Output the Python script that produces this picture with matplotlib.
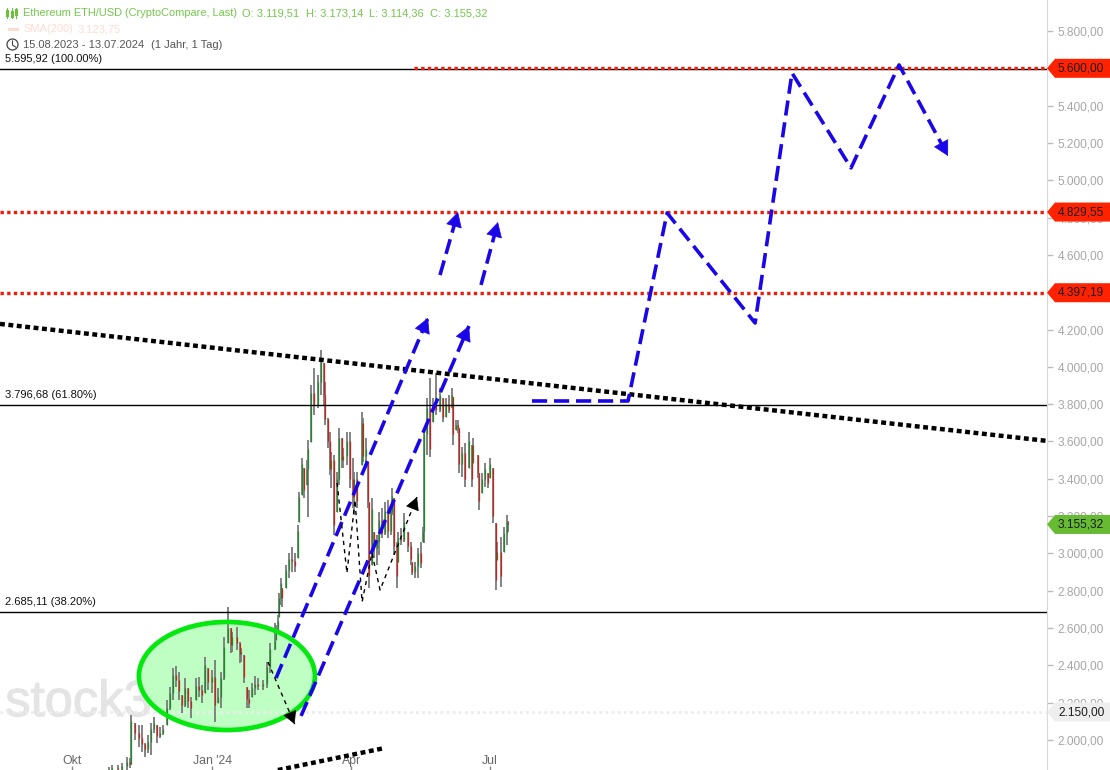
import numpy as np
import matplotlib
matplotlib.use("Agg")
import matplotlib.pyplot as plt
import matplotlib.patheffects as pe
from matplotlib.patches import Ellipse, Polygon, Circle
from matplotlib.lines import Line2D
from matplotlib.transforms import Affine2D, blended_transform_factory

plt.rcParams["font.family"] = ["Liberation Sans", "DejaVu Sans"]

# days counted from 1 Oct 2023
days = [24,26,30,33,36,38,39,41,44,46,48,50,52,54,56,58,60,62,64,66,68,70,72,74,76,78,81,83,85,87,89,92,94,96,98,100,102,104,105,108,110,111,113,115,116,118,120,122,125,128,130,133,134,135,136,137,138,140,142,144,146,148,149,151,152,154,155,157,159,161,163,165,166,168,169,170,172,174,175,177,178,180,182,184,185,187,190,191,193,194,195,197,198,200,201,203,205,207,209,210,211,213,214,216,218,220,222,223,225,227,229,230,231,233,235,237,239,241,243,245,247,249,250,252,253,254,256,258,260,262,263,266,267,269,271,273,274,276,278,279,281,283,285,286]
high = [1855,1866,1866,1877,1909,1904,2134,2091,2080,2080,1984,2027,2091,2123,2080,2070,2080,2214,2284,2386,2397,2364,2241,2332,2279,2230,2332,2338,2295,2445,2386,2375,2429,2279,2364,2552,2713,2600,2579,2606,2525,2493,2456,2284,2268,2306,2343,2332,2322,2418,2520,2627,2616,2670,2788,2868,2815,2938,3002,3034,3002,3152,3329,3512,3458,3501,3608,3903,3994,3956,4090,4021,3919,3726,3651,3544,3528,3436,3672,3619,3565,3651,3651,3512,3436,3436,3758,3726,3619,3490,3276,3297,3115,3099,3222,3244,3276,3286,3260,3351,3297,3061,3115,3136,3217,3115,3061,2954,2954,3029,3061,3142,3662,3833,3940,3833,3967,3887,3833,3833,3849,3887,3838,3715,3715,3672,3570,3592,3651,3581,3619,3528,3431,3431,3485,3431,3512,3458,3163,3061,3088,3142,3206,3173]
low = [1810,1820,1825,1830,1830,1850,1866,2000,1962,1936,1909,1930,1920,2038,1984,2011,2027,2080,2161,2214,2284,2214,2145,2177,2172,2118,2214,2230,2198,2252,2268,2252,2096,2198,2172,2322,2520,2466,2472,2482,2413,2418,2306,2172,2172,2230,2241,2268,2268,2279,2359,2482,2536,2579,2659,2724,2713,2815,2868,2900,2900,2975,3168,3313,3297,3367,3195,3597,3742,3780,3849,3796,3688,3565,3420,3351,3099,3222,3367,3458,3458,3474,3351,3244,3206,3244,3474,3490,3490,3244,2815,2938,2975,2938,2992,3083,3099,3083,3099,3206,2992,2815,2954,3045,3061,3008,2938,2884,2868,2868,2922,3061,3056,3528,3517,3704,3742,3758,3704,3731,3753,3780,3581,3662,3646,3431,3410,3356,3458,3356,3485,3404,3233,3324,3356,3351,3404,3163,2804,2965,2820,3008,3045,3114]
close = [1840,1850,1845,1860,1880,1870,2100,2040,2010,1980,1950,1990,2060,2090,2020,2040,2060,2170,2250,2350,2320,2260,2190,2280,2210,2170,2290,2270,2240,2400,2310,2340,2190,2230,2330,2500,2600,2510,2550,2520,2460,2470,2340,2220,2200,2280,2300,2290,2300,2390,2490,2530,2580,2640,2760,2840,2760,2910,2970,2960,2930,3120,3300,3480,3340,3450,3560,3860,3800,3920,4030,3850,3720,3600,3450,3500,3150,3400,3620,3500,3520,3600,3400,3300,3400,3280,3700,3520,3560,3280,2880,3240,3030,3060,3180,3110,3230,3120,3220,3310,3040,2880,3080,3070,3170,3040,2970,2900,2930,3000,2950,3120,3640,3780,3560,3800,3770,3850,3730,3800,3770,3850,3640,3690,3670,3480,3540,3400,3600,3400,3580,3430,3280,3400,3450,3380,3480,3200,2860,3010,2880,3110,3170,3155.32]

price_ticks = np.arange(2000, 5801, 200)
hidden_ticks = [4400, 5600]
month_days = [0, 92, 183, 274]
month_labels = ["Okt", "Jan '24", "Apr", "Jul"]

fib_levels = [5595.92, 3796.68, 2685.11]
fib_labels = ["5.595,92 (100.00%)", "3.796,68 (61.80%)", "2.685,11 (38.20%)"]
target_levels = [4829.55, 4397.19]
top_target = 5600.0
top_target_start = 224
last_price = 3155.32
support = 2150.0

trend_days = [-47.2, 639.3]
trend_prices = [4230, 3603]
low_trend_days = [135, 205]
low_trend_prices = [1839, 1957]

blue_arrows = [
    ([133.8, 233.4], [2332, 4262]),
    ([150.2, 260.3], [2129, 4219]),
    ([241.3, 253.1], [4492, 4830]),
    ([268.2, 279.3], [4439, 4776]),
    ([301.6, 364.6, 390.2, 447.9, 472.1, 510.8, 542.3, 574.4],
     [3817, 3817, 4825, 4235, 5575, 5066, 5618, 5130]),
]
thin_arrows = [
    ([128.5, 146], [2418, 2085]),
    ([173.8, 180.3, 185.6, 190.2, 196.7, 202, 226.2],
     [3378, 2895, 3286, 2740, 3002, 2804, 3302]),
]

GREEN_TXT = "#72c84a"
BLUE = "#1a06e8"
RED = "#f01a08"


def price_text(v):
    return f"{v:,.2f}".replace(",", "X").replace(".", ",").replace("X", ".")


fig = plt.figure(figsize=(11.1, 7.7), dpi=100)
ax = fig.add_axes([0, 0, 1047 / 1110, 1])
ax.set_xlim(-47.2, 639.3)
ax.set_ylim(1839.2, 5966.1)

for s in ["top", "left", "bottom"]:
    ax.spines[s].set_visible(False)
ax.spines["right"].set_color("#d8d8d8")

ax.yaxis.tick_right()
ax.set_yticks(price_ticks)
# 4.400 and 5.600 sit fully behind their price tags
ax.set_yticklabels(["" if v in hidden_ticks else price_text(v) for v in price_ticks],
                   fontsize=8.6, color="#a6a6a6")
ax.tick_params(axis="y", length=4, width=1, color="#bcbcbc", pad=3.5)
ax.set_xticks(month_days)
ax.set_xticklabels(month_labels, fontsize=8.8, color="#666666")
ax.tick_params(axis="x", direction="in", length=3, width=1, color="#888888", pad=-11)

# watermark
ax.text(0.005, 0.0701, "stock3", transform=ax.transAxes, fontsize=36.5, color="#e4e4e4",
        ha="left", va="baseline", zorder=0,
        path_effects=[pe.withStroke(linewidth=0.8, foreground="#e4e4e4")])

# green zone, fill under the candles and edge over them
ax.add_patch(Ellipse((101.6, 2343), 115.4, 579, facecolor="#bfffc4", edgecolor="none", zorder=1))
ax.add_patch(Ellipse((101.6, 2343), 115.4, 579, facecolor="none", edgecolor="#05e80f", lw=3.4, zorder=5))

# candles
days_a = np.array(days)
high_a = np.array(high, dtype=float)
low_a = np.array(low, dtype=float)
close_a = np.array(close, dtype=float)
open_a = np.r_[low_a[0], close_a[:-1]]
open_a = np.clip(open_a, low_a, high_a)
ax.vlines(days_a, low_a, high_a, color="#7a7a7a", lw=1.3, zorder=2)
up = close_a >= open_a
ax.vlines(days_a[up], open_a[up], close_a[up], color="#1f8a2a", lw=0.9, zorder=3)
ax.vlines(days_a[~up], open_a[~up], close_a[~up], color="#cc2018", lw=0.9, zorder=3)

# horizontal levels
for lv in fib_levels:
    ax.axhline(lv, color="black", lw=1.0, zorder=3)
for lv in target_levels:
    ax.axhline(lv, color=RED, lw=2.4, ls=(0, (1, 1)), zorder=4)
ax.plot([top_target_start, 639.3], [top_target, top_target], color=RED, lw=2.4, ls=(0, (1, 1)), zorder=4)
ax.axhline(support, color="#ececec", lw=2, ls=(0, (1, 1.2)), zorder=1.5)

# trend lines
ax.plot(trend_days, trend_prices, color="black", lw=3.2, ls=(0, (1.1, 0.8)), zorder=5)
ax.plot(low_trend_days, low_trend_prices, color="black", lw=3.2, ls=(0, (1.1, 0.8)), zorder=5)


def arrow_line(xs, ys, color, lw, ls, scale, zorder):
    ax.plot(xs, ys, color=color, lw=lw, ls=ls, zorder=zorder, dash_capstyle="butt")
    x0 = xs[-1] - (xs[-1] - xs[-2]) * 0.02
    y0 = ys[-1] - (ys[-1] - ys[-2]) * 0.02
    ax.annotate("", xy=(xs[-1], ys[-1]), xytext=(x0, y0), zorder=zorder,
                arrowprops=dict(arrowstyle="-|>,head_length=0.55,head_width=0.3", color=color,
                                mutation_scale=scale, shrinkA=0, shrinkB=0, lw=0.5))


for xs, ys in blue_arrows:
    arrow_line(xs, ys, BLUE, 2.6, (0, (4.2, 1.9)), 18, 6)
for xs, ys in thin_arrows:
    arrow_line(xs, ys, "black", 1.0, (0, (3, 3)), 15, 6)

# price tags on the axis
tag_tf = blended_transform_factory(ax.transAxes, ax.transData)
right = 1110 / 1047
notch = 1055 / 1047
half = 51
tags = [(top_target, "5.600,00", "#ff2200"), (target_levels[0], "4.829,55", "#ff2200"),
        (target_levels[1], "4.397,19", "#ff2200"), (last_price, "3.155,32", "#66bb33"),
        (support, "2.150,00", "#eeeeee")]
for val, txt, col in tags:
    ax.add_patch(Polygon([(1.0, val), (notch, val + half), (right, val + half), (right, val - half), (notch, val - half)],
                         closed=True, transform=tag_tf, facecolor=col, edgecolor="none", clip_on=False, zorder=7))
    ax.text(1058 / 1047, val, txt, transform=tag_tf, fontsize=8.6, color="#1c1c1c", ha="left", va="center",
            clip_on=False, zorder=8)

# header, placed in image pixels
pix = Affine2D().scale(1, -1).translate(0, 770)


def label(x, y, s, color, size=8.0):
    fig.text(x, y, s, transform=pix, color=color, fontsize=size, ha="left", va="center", zorder=10)


label(23, 13, "Ethereum ETH/USD (CryptoCompare, Last)", GREEN_TXT, 7.9)
label(242, 13, "O: 3.119,51", GREEN_TXT)
label(306, 13, "H: 3.173,14", GREEN_TXT)
label(369, 13, "L: 3.114,36", GREEN_TXT)
label(430, 13, "C: 3.155,32", GREEN_TXT)
label(23, 29, "SMA(200)", "#ffdcd2")
label(78, 29, "3.123,75", "#ffdcd2")
label(23, 45, "15.08.2023 - 13.07.2024", "#555555")
label(151, 45, "(1 Jahr, 1 Tag)", "#555555")
label(5, 59, fib_labels[0], "#111111")
label(5, 395, fib_labels[1], "#111111")
label(5, 602, fib_labels[2], "#111111")

for x, y1, y2, b1, b2 in [(7, 8, 18, 11, 15), (11.5, 8, 18, 12, 16), (16, 8, 18, 10, 14)]:
    fig.add_artist(Line2D([x, x], [y1, y2], transform=pix, color="#6fbf3f", lw=0.8))
    fig.add_artist(Line2D([x, x], [b1, b2], transform=pix, color="#6fbf3f", lw=2.2))
fig.add_artist(Line2D([9, 17], [29, 29], transform=pix, color="#ffdcd2", lw=2.2))
fig.add_artist(Circle((12.5, 44.5), 5.5, transform=pix, facecolor="none", edgecolor="#444444", lw=0.9))
fig.add_artist(Line2D([12.5, 12.5, 15.5], [41, 45, 47], transform=pix, color="#444444", lw=0.8))

fig.savefig("out.png", dpi=100)
